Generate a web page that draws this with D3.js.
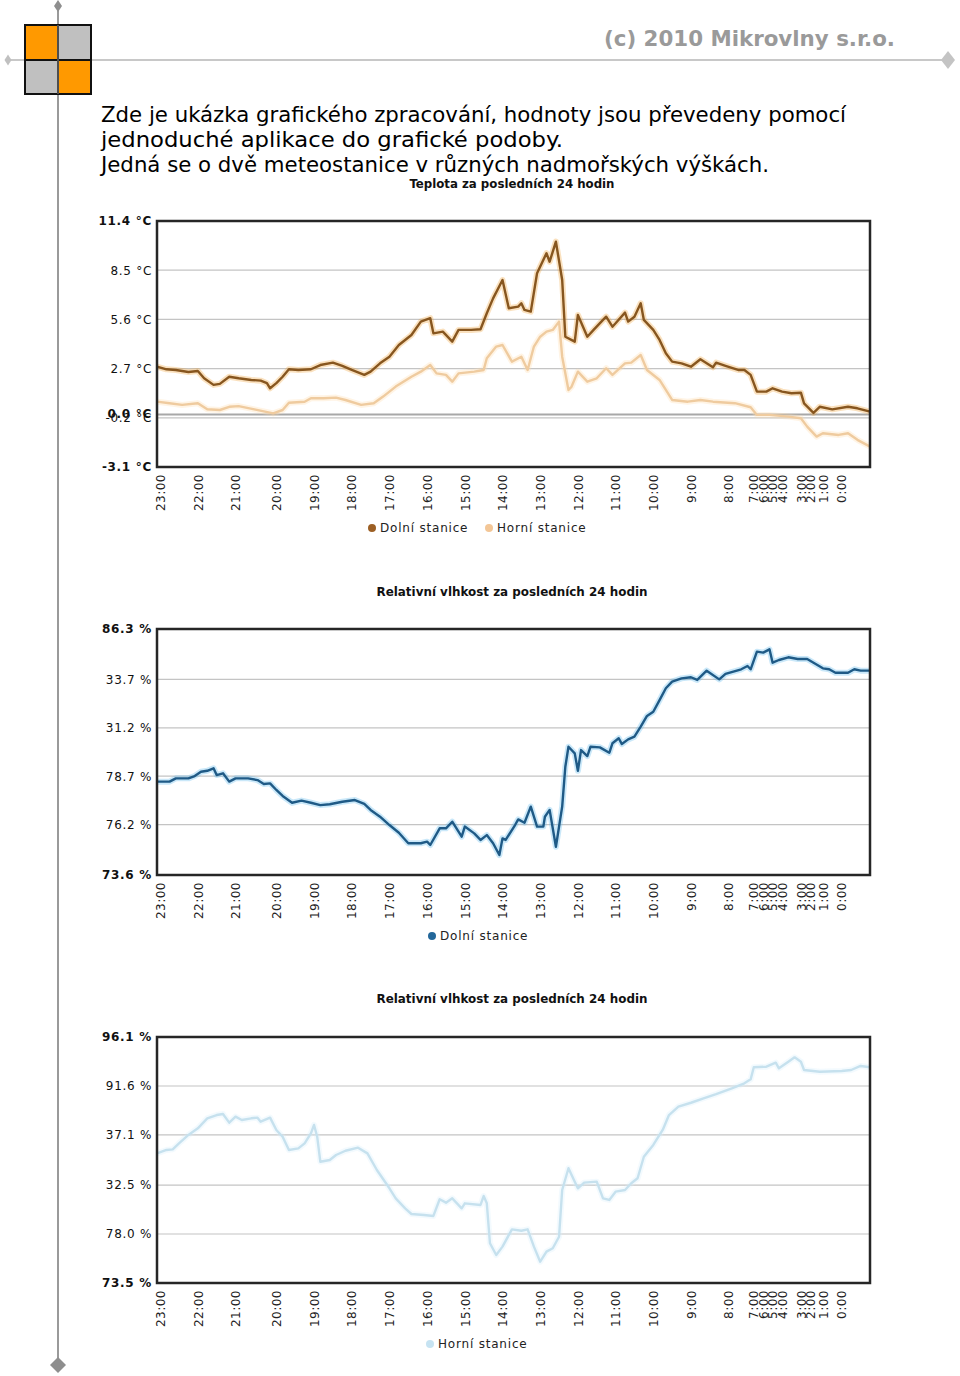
<!DOCTYPE html>
<html><head><meta charset="utf-8">
<script src="https://cdn.jsdelivr.net/npm/d3@7"></script>
<style>body{margin:0;background:#fff}svg{display:block}</style>
</head><body>
<script>
// ---------- data ----------
const hourLabels = ["23:00","22:00","21:00","20:00","19:00","18:00","17:00","16:00","15:00","14:00","13:00","12:00","11:00","10:00","9:00","8:00","7:00","6:00","5:00","4:00","3:00","2:00","1:00","0:00"];
const hourIndex = [1,13,25,38,50,62,74,86,98,110,122,134,146,158,170,182,190,193,196,199,205,208,212,218];

const tempTicks = [11.4, 8.5, 5.6, 2.7, -0.2, -3.1];
const tempTickLabels = ["11.4 °C","8.5 °C","5.6 °C","2.7 °C","-0.2 °C","-3.1 °C"];
const humDolniTicks = [86.3, 83.7, 81.2, 78.7, 76.2, 73.6];
const humDolniTickLabels = ["86.3 %","33.7 %","31.2 %","78.7 %","76.2 %","73.6 %"];
const humHorniTicks = [96.1, 91.6, 87.1, 82.5, 78.0, 73.5];
const humHorniTickLabels = ["96.1 %","91.6 %","37.1 %","32.5 %","78.0 %","73.5 %"];

const tempDolni = [[0,2.82],[3,2.66],[6,2.62],[10,2.5],[13,2.56],[15,2.13],[18,1.74],[20,1.8],[23,2.22],[26,2.13],[30,2.03],[33,1.99],[35,1.84],[36,1.54],[38,1.84],[40,2.22],[42,2.66],[45,2.62],[49,2.66],[52,2.91],[56,3.05],[59,2.86],[62,2.62],[66,2.33],[68,2.52],[71,3.01],[74,3.4],[77,4.09],[81,4.68],[84,5.47],[87,5.67],[88,4.78],[91,4.88],[94,4.29],[96,4.98],[100,4.98],[103,5.02],[105,5.96],[107,6.84],[110,7.92],[112,6.26],[115,6.35],[116,6.55],[117,6.16],[119,6.06],[121,8.32],[124,9.5],[125,9.0],[127,10.18],[129,7.92],[130,4.58],[133,4.29],[134,5.86],[137,4.58],[139,4.98],[142,5.57],[143,5.76],[145,5.17],[146,5.37],[149,6.0],[150,5.47],[152,5.76],[154,6.55],[155,5.57],[158,4.98],[160,4.39],[162,3.6],[164,3.11],[167,3.01],[170,2.81],[173,3.25],[177,2.78],[178,3.05],[181,2.86],[185,2.62],[187,2.62],[189,2.33],[191,1.34],[194,1.34],[196,1.54],[199,1.34],[202,1.25],[205,1.28],[206,0.65],[209,0.09],[211,0.45],[215,0.3],[220,0.45],[223,0.36],[227,0.16]];
const tempHorni = [[0,0.75],[4,0.66],[8,0.56],[13,0.66],[16,0.3],[20,0.26],[23,0.45],[26,0.49],[31,0.3],[37,0.06],[40,0.26],[42,0.69],[47,0.75],[49,0.95],[53,0.95],[57,0.99],[60,0.85],[65,0.56],[69,0.66],[72,1.05],[76,1.64],[81,2.22],[84,2.52],[87,2.91],[89,2.42],[92,2.33],[94,1.93],[96,2.42],[101,2.52],[104,2.62],[105,3.31],[108,4.0],[110,4.09],[113,3.11],[116,3.4],[118,2.62],[120,4.0],[122,4.58],[124,4.88],[126,4.98],[128,5.47],[129,3.4],[131,1.44],[132,1.64],[134,2.52],[137,1.93],[140,2.13],[143,2.72],[145,2.33],[149,3.01],[151,3.05],[154,3.5],[156,2.62],[160,2.03],[164,0.85],[169,0.75],[173,0.85],[177,0.75],[184,0.66],[189,0.42],[191,-0.03],[195,-0.03],[201,-0.13],[205,-0.23],[207,-0.72],[210,-1.31],[212,-1.11],[217,-1.21],[220,-1.11],[223,-1.5],[227,-1.9]];
const humDolni = [[0,78.42],[4,78.42],[6,78.59],[10,78.59],[12,78.71],[14,78.93],[16,78.98],[18,79.11],[19,78.76],[21,78.85],[23,78.42],[25,78.59],[29,78.59],[32,78.5],[34,78.3],[36,78.33],[38,77.99],[40,77.68],[43,77.33],[46,77.44],[49,77.33],[52,77.21],[55,77.25],[59,77.38],[63,77.47],[66,77.27],[68,76.96],[71,76.61],[74,76.18],[77,75.78],[80,75.24],[84,75.24],[86,75.32],[87,75.15],[90,76.01],[92,76.01],[94,76.35],[97,75.58],[98,76.1],[101,75.75],[103,75.41],[105,75.66],[107,75.24],[109,74.63],[110,75.49],[111,75.41],[114,76.18],[115,76.47],[117,76.3],[119,77.13],[121,76.1],[123,76.1],[123.5,76.61],[125,76.96],[127,75.06],[129,77.13],[130,79.19],[131,80.22],[133,79.88],[134,78.98],[135,80.05],[137,79.74],[138,80.22],[141,80.19],[144,79.91],[145,80.4],[147,80.66],[148,80.36],[150,80.6],[152,80.74],[154,81.26],[156,81.81],[158,82.03],[160,82.63],[162,83.24],[164,83.58],[167,83.75],[170,83.81],[172,83.67],[175,84.15],[179,83.7],[181,83.98],[186,84.22],[188,84.39],[189,84.22],[191,85.13],[193,85.08],[195,85.25],[196,84.56],[198,84.7],[201,84.84],[204,84.75],[207,84.75],[212,84.27],[214,84.22],[216,84.04],[220,84.04],[222,84.22],[224,84.15],[227,84.15]];
const humHorni = [[0,85.41],[3,85.72],[5,85.78],[7,86.33],[10,87.1],[13,87.71],[16,88.63],[19,88.93],[21,89.03],[23,88.23],[25,88.78],[27,88.47],[30,88.63],[32,88.69],[33,88.32],[36,88.69],[38,87.56],[40,86.94],[42,85.72],[45,85.87],[47,86.33],[49,87.25],[50,88.02],[51,86.94],[52,84.64],[55,84.8],[57,85.26],[60,85.65],[64,85.93],[67,85.41],[70,83.88],[74,82.2],[76,81.28],[79,80.36],[81,79.84],[85,79.75],[88,79.66],[90,81.19],[92,80.88],[94,81.28],[97,80.36],[98,80.82],[103,80.67],[104,81.49],[105,80.82],[106,77.15],[108,76.07],[110,76.84],[113,78.43],[116,78.3],[118,78.43],[120,76.84],[122,75.46],[124,76.38],[126,76.69],[128,77.75],[129,82.04],[131,84.04],[133,82.81],[134,82.2],[136,82.72],[140,82.81],[142,81.28],[144,81.13],[146,81.89],[149,82.04],[151,82.66],[153,83.12],[155,85.1],[158,86.18],[161,87.56],[163,88.93],[166,89.7],[170,90.06],[174,90.47],[178,90.86],[183,91.39],[187,91.85],[189,92.21],[190,93.32],[194,93.37],[197,93.74],[198,93.22],[201,93.83],[203,94.23],[205,93.83],[206,93.07],[211,92.91],[218,92.98],[221,93.07],[224,93.44],[227,93.32]];

const introLines = ["Zde je ukázka grafického zpracování, hodnoty jsou převedeny pomocí","jednoduché aplikace do grafické podoby.","Jedná se o dvě meteostanice v různých nadmořských výškách."];

// ---------- drawing ----------
const svg = d3.select("body").append("svg").attr("width",960).attr("height",1376);
const FONT = "DejaVu Sans, Verdana, sans-serif";
const FONT_C = "DejaVu Sans Condensed, DejaVu Sans, sans-serif";

// decoration lines
svg.append("line").attr("x1",58).attr("x2",58).attr("y1",4).attr("y2",1365).attr("stroke","#9a9a9a").attr("stroke-width",2);
svg.append("line").attr("x1",8).attr("x2",946).attr("y1",60).attr("y2",60).attr("stroke","#c8c8c8").attr("stroke-width",2);
function diamond(cx,cy,w,h,fill){
  svg.append("path").attr("d",`M${cx},${cy-h/2}L${cx+w/2},${cy}L${cx},${cy+h/2}L${cx-w/2},${cy}Z`).attr("fill",fill);
}
diamond(58,6,8,12,"#8e8e8e");
diamond(58,1365,16,16,"#8e8e8e");
diamond(8,60,7,11,"#c0c0c0");
diamond(948,60,14,18,"#c4c4c4");

// logo
const logo = svg.append("g");
[[25,25,"#ff9900"],[58,25,"#c0c0c0"],[25,60,"#c0c0c0"],[58,60,"#ff9900"]].forEach(([x,y,c])=>{
  logo.append("rect").attr("x",x).attr("y",y).attr("width",33).attr("height",y===25?35:34).attr("fill",c).attr("stroke","#111").attr("stroke-width",2);
});
svg.append("line").attr("x1",58).attr("x2",58).attr("y1",25).attr("y2",94).attr("stroke","#9a9a9a").attr("stroke-width",1.5).attr("opacity",0.6);

svg.append("text").attr("x",895).attr("y",46).attr("text-anchor","end")
  .attr("font-family",FONT_C).attr("font-weight","bold").attr("font-size",21).attr("fill","#9a9a9a")
  .attr("textLength",291).attr("lengthAdjust","spacingAndGlyphs")
  .text("(c) 2010 Mikrovlny s.r.o.");

const introW = [745, 462, 668];
introLines.forEach((t,i)=>{
  svg.append("text").attr("x",101).attr("y",122+i*25).attr("font-family",FONT_C).attr("font-size",21.5).attr("fill","#000")
    .attr("textLength",introW[i]).attr("lengthAdjust","spacingAndGlyphs").text(t);
});

const x = d3.scaleLinear().domain([0,227]).range([157,870]);

function chart(opts){
  const {top, bottom, domain, ticks, tickLabels, series, title, titleY, legendY, legend, zero} = opts;
  const y = d3.scaleLinear().domain(domain).range([bottom, top]);
  const g = svg.append("g");
  // title
  g.append("text").attr("x",512).attr("y",titleY).attr("text-anchor","middle")
    .attr("font-family",FONT_C).attr("font-weight","bold").attr("font-size",12).attr("fill","#111")
    .attr("textLength",title.length>35?271:205).attr("lengthAdjust","spacingAndGlyphs").text(title);
  // gridlines
  g.selectAll("line.grid").data(ticks.slice(1,-1)).join("line")
    .attr("x1",157).attr("x2",870).attr("y1",d=>y(d)).attr("y2",d=>y(d))
    .attr("stroke","#c4c4c4").attr("stroke-width",1.2);
  if(zero!==undefined){
    g.append("line").attr("x1",157).attr("x2",870).attr("y1",y(zero)).attr("y2",y(zero)).attr("stroke","#a8a8a8").attr("stroke-width",2);
  }
  // lines
  const line = d3.line().x(d=>x(d[0])).y(d=>y(d[1]));
  series.forEach(s=>{
    g.append("path").datum(s.data).attr("d",line).attr("fill","none").attr("stroke",s.glow).attr("stroke-width",6).attr("stroke-opacity",0.3).attr("stroke-linejoin","round");
    g.append("path").datum(s.data).attr("d",line).attr("fill","none").attr("stroke",s.color).attr("stroke-width",2.4).attr("stroke-linejoin","round");
  });
  // frame
  g.append("rect").attr("x",157).attr("y",top).attr("width",713).attr("height",bottom-top)
    .attr("fill","none").attr("stroke","#262626").attr("stroke-width",2.5);
  // y axis
  const ya = d3.axisLeft(y).tickValues(ticks).tickSize(0).tickPadding(3)
    .tickFormat((d,i)=>tickLabels[i]);
  const yg = g.append("g").attr("transform","translate(155,0)").call(ya);
  yg.select(".domain").remove();
  yg.selectAll("text").attr("font-family",FONT).attr("font-size",12).attr("fill","#111").attr("letter-spacing",0.7)
    .attr("font-weight",(d,i)=>(i===0||i===ticks.length-1)?"bold":"normal");
  if(zero!==undefined){
    g.append("text").attr("x",152).attr("y",y(zero)).attr("dy","0.32em").attr("text-anchor","end")
      .attr("font-family",FONT).attr("font-size",12).attr("font-weight","bold").attr("letter-spacing",0.7).attr("fill","#111").text("0.0 °C");
  }
  // x axis
  const xa = d3.axisBottom(x).tickValues(hourIndex).tickSize(0).tickFormat((d,i)=>hourLabels[i]);
  const xg = g.append("g").attr("transform",`translate(0,${bottom})`).call(xa);
  xg.select(".domain").remove();
  xg.selectAll("text").attr("transform","rotate(-90)").attr("text-anchor","end").attr("x",-7).attr("y",0).attr("dy","0.35em")
    .attr("font-family",FONT).attr("font-size",12).attr("fill","#222").attr("letter-spacing",0.5);
  // legend
  legend.forEach(l=>{
    g.append("circle").attr("cx",l.x).attr("cy",legendY-4).attr("r",4).attr("fill",l.color);
    g.append("text").attr("x",l.x+8).attr("y",legendY).attr("font-family",FONT).attr("font-size",12).attr("letter-spacing",0.8).attr("fill","#222").text(l.label);
  });
}

chart({top:221,bottom:467,domain:[-3.1,11.4],ticks:tempTicks,tickLabels:tempTickLabels,zero:0,
  title:"Teplota za posledních 24 hodin",titleY:188,legendY:532,
  series:[{data:tempHorni,color:"#efcb9f",glow:"#ffd9a8"},{data:tempDolni,color:"#87561f",glow:"#f09a2a"}],
  legend:[{x:372,color:"#9c5f24",label:"Dolní stanice"},{x:489,color:"#f3c696",label:"Horní stanice"}]});

chart({top:629,bottom:875,domain:[73.6,86.3],ticks:humDolniTicks,tickLabels:humDolniTickLabels,
  title:"Relativní vlhkost za posledních 24 hodin",titleY:596,legendY:940,
  series:[{data:humDolni,color:"#1f5a86",glow:"#4fb2ea"}],
  legend:[{x:432,color:"#23679a",label:"Dolní stanice"}]});

chart({top:1037,bottom:1283,domain:[73.5,96.1],ticks:humHorniTicks,tickLabels:humHorniTickLabels,
  title:"Relativní vlhkost za posledních 24 hodin",titleY:1003,legendY:1348,
  series:[{data:humHorni,color:"#c6e1ee",glow:"#d8f0fb"}],
  legend:[{x:430,color:"#c6e3f2",label:"Horní stanice"}]});
</script>
</body></html>
